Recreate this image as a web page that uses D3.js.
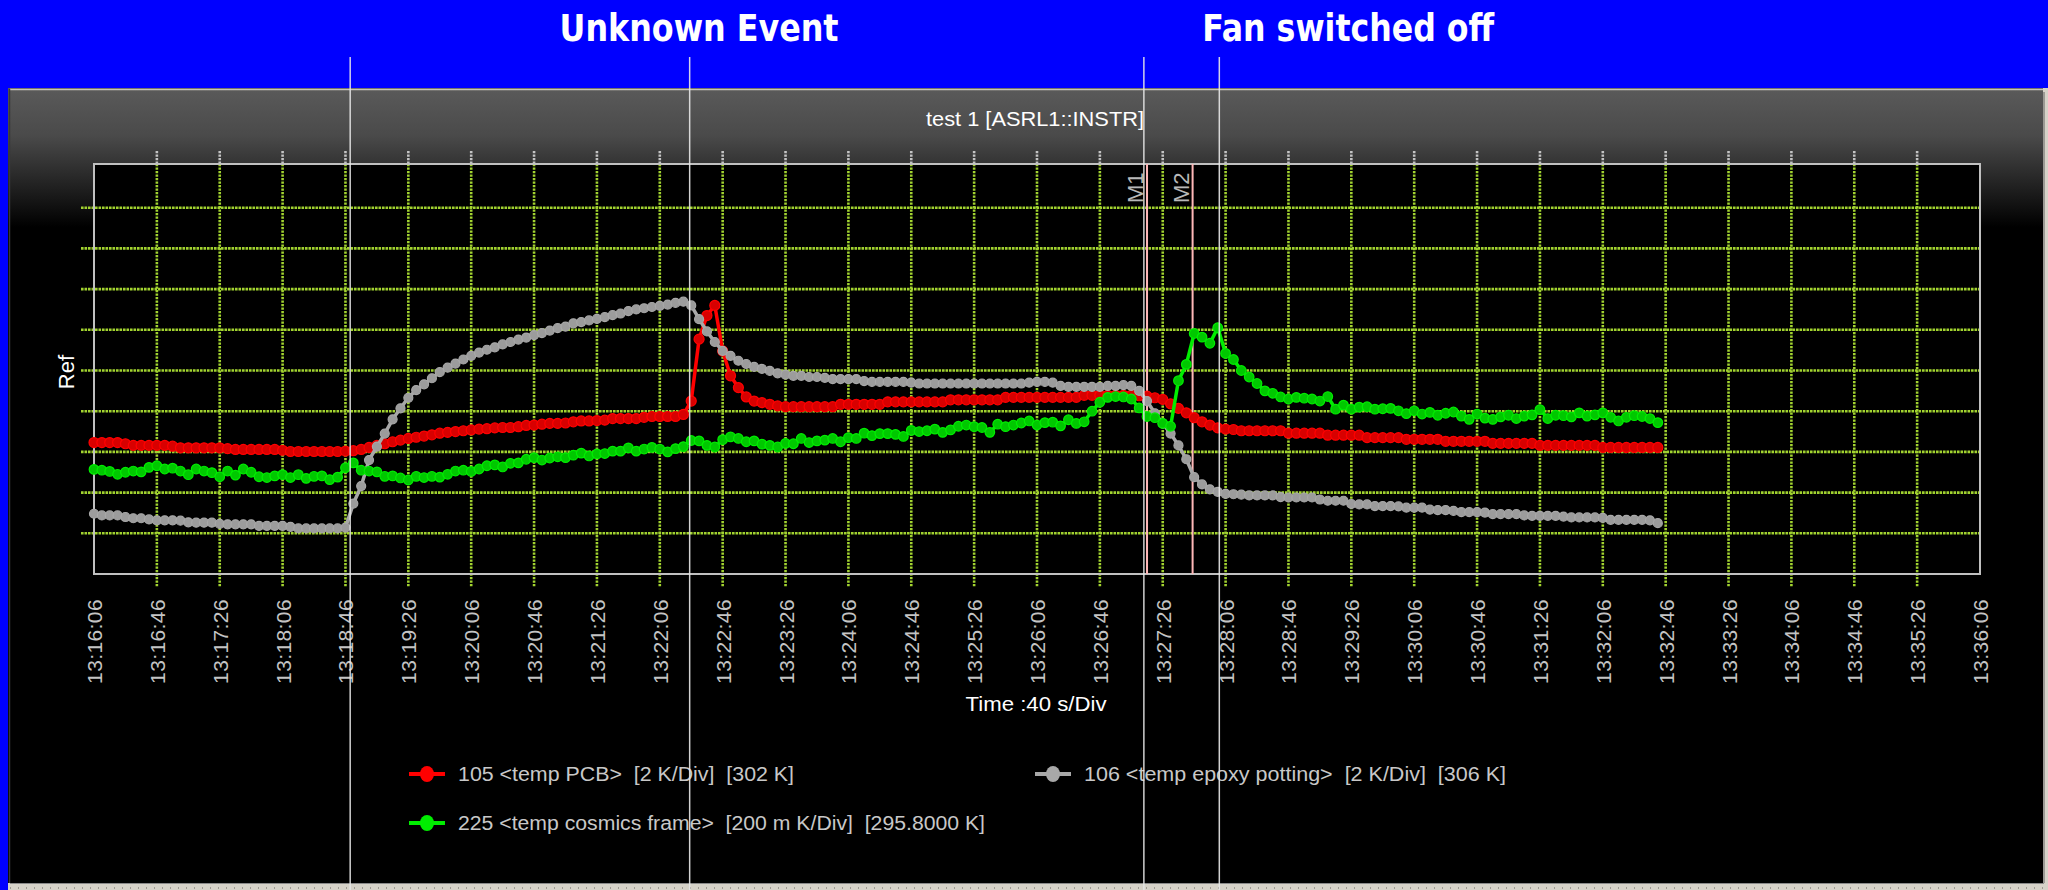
<!DOCTYPE html>
<html>
<head>
<meta charset="utf-8">
<script src="https://cdn.jsdelivr.net/npm/d3@7"></script>
<style>
  html, body { margin: 0; padding: 0; background: #0000ff; overflow: hidden; }
  svg { display: block; }
  .keep { white-space: pre; }
</style>
</head>
<body>
<div id="container"></div>
<script>
// x axis tick labels (40 s per division)
const tickLabels = [
  "13:16:06", "13:16:46", "13:17:26", "13:18:06", "13:18:46", "13:19:26", "13:20:06", "13:20:46",
  "13:21:26", "13:22:06", "13:22:46", "13:23:26", "13:24:06", "13:24:46", "13:25:26", "13:26:06",
  "13:26:46", "13:27:26", "13:28:06", "13:28:46", "13:29:26", "13:30:06", "13:30:46", "13:31:26",
  "13:32:06", "13:32:46", "13:33:26", "13:34:06", "13:34:46", "13:35:26", "13:36:06"
];

// samples: one every 5 s from sampleStart, values in divisions of the grid
const sampleStart = "13:16:06";
const sampleStep = 5;

const pcbValues = [
  3.23,3.23,3.23,3.23,3.20,3.16,3.16,3.16,3.16,3.16,
  3.14,3.10,3.10,3.10,3.10,3.10,3.10,3.08,3.06,3.06,
  3.06,3.06,3.06,3.06,3.04,3.01,3.01,3.01,3.01,3.01,
  3.01,3.01,3.02,3.03,3.06,3.11,3.16,3.20,3.25,3.29,
  3.33,3.36,3.39,3.42,3.46,3.48,3.50,3.52,3.54,3.56,
  3.57,3.59,3.60,3.60,3.62,3.65,3.66,3.68,3.70,3.70,
  3.71,3.74,3.76,3.76,3.77,3.78,3.82,3.82,3.82,3.82,
  3.85,3.87,3.87,3.87,3.87,3.92,4.25,5.77,6.35,6.60,
  5.48,4.87,4.58,4.35,4.25,4.21,4.17,4.13,4.11,4.11,
  4.11,4.11,4.11,4.11,4.11,4.17,4.17,4.17,4.17,4.17,
  4.17,4.23,4.23,4.23,4.23,4.23,4.23,4.23,4.23,4.28,
  4.28,4.28,4.28,4.28,4.28,4.28,4.34,4.34,4.34,4.34,
  4.34,4.34,4.34,4.34,4.34,4.34,4.39,4.39,4.39,4.39,
  4.39,4.39,4.39,4.38,4.37,4.33,4.29,4.18,4.07,3.96,
  3.84,3.74,3.66,3.59,3.56,3.55,3.52,3.52,3.52,3.52,
  3.52,3.52,3.46,3.46,3.46,3.46,3.46,3.41,3.41,3.41,
  3.41,3.41,3.35,3.35,3.35,3.35,3.35,3.31,3.31,3.31,
  3.31,3.31,3.26,3.26,3.26,3.26,3.26,3.26,3.21,3.21,
  3.21,3.21,3.21,3.21,3.16,3.16,3.16,3.16,3.16,3.16,
  3.16,3.16,3.11,3.11,3.11,3.11,3.11,3.11,3.11,3.11
];

const epoxyValues = [
  1.48,1.44,1.44,1.44,1.40,1.37,1.37,1.34,1.32,1.32,
  1.32,1.31,1.27,1.26,1.26,1.26,1.23,1.22,1.22,1.22,
  1.22,1.18,1.18,1.18,1.18,1.16,1.12,1.12,1.12,1.12,
  1.12,1.12,1.14,1.73,2.16,2.80,3.13,3.45,3.80,4.07,
  4.33,4.52,4.66,4.81,4.96,5.07,5.17,5.27,5.36,5.44,
  5.51,5.57,5.64,5.70,5.76,5.81,5.87,5.92,5.98,6.04,
  6.08,6.16,6.19,6.23,6.27,6.31,6.36,6.40,6.46,6.50,
  6.53,6.56,6.59,6.62,6.66,6.69,6.60,6.26,5.96,5.70,
  5.48,5.36,5.24,5.16,5.09,5.04,4.99,4.93,4.90,4.87,
  4.87,4.84,4.84,4.82,4.79,4.79,4.79,4.79,4.74,4.72,
  4.72,4.72,4.72,4.72,4.70,4.68,4.68,4.68,4.68,4.68,
  4.68,4.68,4.68,4.68,4.68,4.68,4.68,4.68,4.68,4.70,
  4.72,4.72,4.70,4.62,4.60,4.60,4.60,4.60,4.60,4.62,
  4.62,4.64,4.62,4.50,4.25,3.95,3.70,3.45,3.16,2.82,
  2.38,2.20,2.08,2.02,1.97,1.96,1.95,1.93,1.93,1.93,
  1.93,1.89,1.88,1.88,1.88,1.88,1.83,1.80,1.80,1.80,
  1.72,1.71,1.71,1.67,1.67,1.67,1.66,1.63,1.63,1.63,
  1.58,1.57,1.57,1.55,1.52,1.52,1.52,1.51,1.47,1.47,
  1.47,1.47,1.44,1.43,1.43,1.43,1.43,1.41,1.39,1.39,
  1.39,1.39,1.38,1.33,1.33,1.33,1.33,1.33,1.32,1.25
];

const cosmicsValues = [
  2.57,2.55,2.52,2.45,2.50,2.53,2.51,2.62,2.66,2.58,
  2.60,2.53,2.44,2.58,2.53,2.49,2.39,2.53,2.43,2.58,
  2.50,2.39,2.37,2.41,2.44,2.37,2.44,2.35,2.40,2.41,
  2.32,2.38,2.61,2.73,2.55,2.53,2.51,2.40,2.41,2.36,
  2.31,2.40,2.37,2.40,2.38,2.45,2.53,2.55,2.52,2.58,
  2.66,2.68,2.63,2.72,2.73,2.82,2.86,2.80,2.85,2.88,
  2.86,2.92,2.97,2.90,2.95,2.96,3.02,3.02,3.10,3.02,
  3.07,3.11,3.07,3.00,3.08,3.13,3.28,3.27,3.16,3.12,
  3.30,3.37,3.33,3.25,3.27,3.19,3.16,3.12,3.21,3.20,
  3.33,3.23,3.27,3.29,3.33,3.25,3.35,3.33,3.46,3.40,
  3.45,3.45,3.43,3.38,3.53,3.50,3.52,3.56,3.48,3.54,
  3.63,3.66,3.62,3.60,3.48,3.68,3.62,3.66,3.71,3.76,
  3.66,3.72,3.73,3.64,3.79,3.70,3.74,4.00,4.22,4.34,
  4.36,4.35,4.30,4.08,3.87,3.84,3.70,3.63,4.75,5.15,
  5.91,5.82,5.67,6.05,5.42,5.27,5.00,4.84,4.68,4.50,
  4.44,4.35,4.30,4.34,4.32,4.30,4.25,4.36,4.05,4.15,
  4.05,4.10,4.11,4.05,4.06,4.07,4.01,3.94,4.01,3.93,
  3.97,3.90,3.95,3.98,3.88,3.80,3.93,3.83,3.80,3.86,
  3.90,3.82,3.88,3.91,4.04,3.82,3.90,3.89,3.86,3.96,
  3.88,3.91,3.96,3.85,3.76,3.85,3.89,3.87,3.82,3.72
];

const seriesNames = [
  "105 <temp PCB>  [2 K/Div]  [302 K]",
  "106 <temp epoxy potting>  [2 K/Div]  [306 K]",
  "225 <temp cosmics frame>  [200 m K/Div]  [295.8000 K]"
];
const seriesColors = ["#ff0000", "#a8a8a8", "#00ee00"];

const markerNames = ["M1", "M2"];
const markerTimes = ["13:27:16", "13:27:45"];

const eventLineTimes = ["13:18:49", "13:22:25", "13:27:14", "13:28:02"];
const eventLabels = ["Unknown Event", "Fan switched off"];
const eventLabelTimes = ["13:22:31", "13:29:24"];

const W = 2048, H = 890;
const plotLeft = 94, plotRight = 1980, plotTop = 164, plotBottom = 574;

const toSec = s => { const [h, m, ss] = s.split(":").map(Number); return h * 3600 + m * 60 + ss; };
const t0 = toSec(tickLabels[0]);
const rel = s => toSec(s) - t0;

const x = d3.scaleLinear()
  .domain([0, rel(tickLabels[tickLabels.length - 1])])
  .range([plotLeft, plotRight]);
const y = d3.scaleLinear()
  .domain([0, 10])
  .range([plotBottom, 167]);

const svg = d3.select("#container")
  .append("svg")
  .attr("width", W)
  .attr("height", H);

// blue backdrop
svg.append("rect").attr("width", W).attr("height", H).attr("fill", "#0000ff");

// dark panel with grey fade at the top
const defs = svg.append("defs");
const grad = defs.append("linearGradient")
  .attr("id", "panelGrad")
  .attr("x1", 0).attr("y1", 0).attr("x2", 0).attr("y2", 1);
grad.append("stop").attr("offset", 0).attr("stop-color", "#5a5a5a");
grad.append("stop").attr("offset", 0.06).attr("stop-color", "#4a4a4a");
grad.append("stop").attr("offset", 0.175).attr("stop-color", "#000000");
grad.append("stop").attr("offset", 1).attr("stop-color", "#000000");

svg.append("rect")
  .attr("x", 8).attr("y", 88)
  .attr("width", 2036).attr("height", 795)
  .attr("fill", "url(#panelGrad)");

// panel frame bits
svg.append("line").attr("x1", 10).attr("x2", 2043).attr("y1", 89.5).attr("y2", 89.5)
  .attr("stroke", "#c8c4b8").attr("stroke-width", 1.5);
svg.append("line").attr("x1", 9.5).attr("x2", 9.5).attr("y1", 89).attr("y2", 883)
  .attr("stroke", "#3a3a3a").attr("stroke-width", 1.5);
svg.append("rect").attr("x", 2043).attr("y", 88).attr("width", 5).attr("height", 802).attr("fill", "#d6d2c8");
svg.append("line").attr("x1", 2044).attr("x2", 2044).attr("y1", 92).attr("y2", 883)
  .attr("stroke", "#606060").attr("stroke-width", 1);
svg.append("rect").attr("x", 8).attr("y", 883).attr("width", 2040).attr("height", 7).attr("fill", "#d6d2c8");
svg.append("line").attr("x1", 10).attr("x2", 2044).attr("y1", 883.5).attr("y2", 883.5)
  .attr("stroke", "#8a8a8a").attr("stroke-width", 1);
svg.append("line").attr("x1", 10).attr("x2", 2044).attr("y1", 888).attr("y2", 888)
  .attr("stroke", "#a09c94").attr("stroke-width", 2).attr("stroke-dasharray", "1,7");

// plot area
svg.append("rect")
  .attr("x", plotLeft).attr("y", plotTop)
  .attr("width", plotRight - plotLeft).attr("height", plotBottom - plotTop)
  .attr("fill", "#000");

const gridColor = "#a2d330";
const tickSecs = tickLabels.map(rel);
const innerTicks = tickSecs.slice(1, -1);

// vertical grid
const grid = svg.append("g");
grid.selectAll(".vg").data(innerTicks).join("line")
  .attr("x1", d => x(d)).attr("x2", d => x(d))
  .attr("y1", plotTop).attr("y2", plotBottom + 13)
  .attr("stroke", gridColor).attr("stroke-width", 2.6)
  .attr("stroke-dasharray", "2.2,1.3");
grid.selectAll(".vt").data(innerTicks).join("line")
  .attr("x1", d => x(d)).attr("x2", d => x(d))
  .attr("y1", plotTop - 13).attr("y2", plotTop)
  .attr("stroke", "#c4c4c4").attr("stroke-width", 2.6)
  .attr("stroke-dasharray", "2.2,1.3");

// horizontal grid
const hTicks = y.ticks(10).filter(d => d > 0 && d < 10);
grid.selectAll(".hg").data(hTicks).join("line")
  .attr("x1", plotLeft - 13).attr("x2", plotRight)
  .attr("y1", d => y(d)).attr("y2", d => y(d))
  .attr("stroke", gridColor).attr("stroke-width", 2.6)
  .attr("stroke-dasharray", "2.6,0.9");

// frame
svg.append("rect")
  .attr("x", plotLeft).attr("y", plotTop)
  .attr("width", plotRight - plotLeft).attr("height", plotBottom - plotTop)
  .attr("fill", "none").attr("stroke", "#c0c0c0").attr("stroke-width", 2);

// x axis labels
const xAxis = svg.append("g")
  .attr("transform", `translate(0,${plotBottom})`)
  .call(d3.axisBottom(x).tickValues(tickSecs).tickFormat((d, i) => tickLabels[i]).tickSize(0));
xAxis.select(".domain").remove();
xAxis.selectAll("text")
  .attr("transform", "translate(7.5,25) rotate(-90)")
  .attr("x", 0).attr("y", 0).attr("dy", 0)
  .attr("text-anchor", "end")
  .attr("fill", "#c4c4c4")
  .style("font-family", "Liberation Sans, Arial, sans-serif")
  .style("font-size", "21px")
  .style("letter-spacing", "0.4px");

// M markers
const mg = svg.append("g");
markerTimes.forEach((t, i) => {
  const mx = x(rel(t));
  mg.append("line")
    .attr("x1", mx).attr("x2", mx).attr("y1", plotTop).attr("y2", plotBottom)
    .attr("stroke", "#ffb8b8").attr("stroke-width", 2);
  mg.append("text")
    .attr("transform", `translate(${mx - 4},${plotTop + 39}) rotate(-90)`)
    .attr("fill", "#b8b8b8")
    .style("font-family", "Liberation Sans, Arial, sans-serif")
    .style("font-size", "22px")
    .text(markerNames[i]);
});

// series
const samples = values => values.map((v, i) => ({ t: rel(sampleStart) + i * sampleStep, v }));
const line = d3.line().x(d => x(d.t)).y(d => y(d.v));
const seriesValues = [pcbValues, epoxyValues, cosmicsValues];
const markerFill = ["#d80000", "#9c9c9c", "#00c800"];
const markerR = [5, 4.5, 4.8];

seriesValues.forEach((vals, si) => {
  const data = samples(vals);
  const g = svg.append("g");
  g.append("path")
    .datum(data)
    .attr("fill", "none")
    .attr("stroke", seriesColors[si])
    .attr("stroke-width", 3.5)
    .attr("d", line);
  g.selectAll("circle").data(data).join("circle")
    .attr("cx", d => x(d.t))
    .attr("cy", d => y(d.v))
    .attr("r", markerR[si])
    .attr("fill", markerFill[si])
    .attr("stroke", seriesColors[si])
    .attr("stroke-width", 1.2);
});

// titles
svg.append("text")
  .attr("x", 1035).attr("y", 126)
  .attr("text-anchor", "middle")
  .attr("fill", "#ffffff")
  .style("font-family", "Liberation Sans, Arial, sans-serif")
  .style("font-size", "21px")
  .attr("textLength", 218)
  .attr("lengthAdjust", "spacingAndGlyphs")
  .text("test 1 [ASRL1::INSTR]");

svg.append("text")
  .attr("x", 1036).attr("y", 711)
  .attr("text-anchor", "middle")
  .attr("fill", "#ffffff")
  .style("font-family", "Liberation Sans, Arial, sans-serif")
  .style("font-size", "21px")
  .attr("textLength", 141)
  .attr("lengthAdjust", "spacingAndGlyphs")
  .text("Time :40 s/Div");

svg.append("text")
  .attr("transform", "translate(74,372) rotate(-90)")
  .attr("text-anchor", "middle")
  .attr("fill", "#ffffff")
  .style("font-family", "Liberation Sans, Arial, sans-serif")
  .style("font-size", "22px")
  .text("Ref");

// legend
const legendCols = [409, 1035];
const legendRows = [774, 823];
const legendTextLen = [336, 422, 527];
seriesNames.forEach((name, i) => {
  const lx = legendCols[i % 2], ly = legendRows[Math.floor(i / 2)];
  const g = svg.append("g").attr("transform", `translate(${lx},${ly})`);
  g.append("line").attr("x1", 0).attr("x2", 36).attr("y1", 0).attr("y2", 0)
    .attr("stroke", seriesColors[i]).attr("stroke-width", 4);
  g.append("ellipse").attr("cx", 18).attr("cy", 0).attr("rx", 7).attr("ry", 8)
    .attr("fill", seriesColors[i]);
  g.append("text")
    .attr("class", "keep")
    .attr("x", 49).attr("y", 7)
    .attr("fill", "#c8c8c8")
    .style("font-family", "Liberation Sans Narrow, Liberation Sans, Arial, sans-serif")
    .style("font-size", "20px")
    .attr("textLength", legendTextLen[i])
    .attr("lengthAdjust", "spacingAndGlyphs")
    .text(name);
});

// event annotations
const ev = svg.append("g");
ev.selectAll("line").data(eventLineTimes).join("line")
  .attr("x1", d => x(rel(d))).attr("x2", d => x(rel(d)))
  .attr("y1", 57).attr("y2", H)
  .attr("stroke", "#e8e8e8").attr("stroke-width", 1.5)
  .attr("opacity", 0.9);
const evLen = [279, 292];
eventLabels.forEach((label, i) => {
  ev.append("text")
    .attr("x", x(rel(eventLabelTimes[i]))).attr("y", 41)
    .attr("text-anchor", "middle")
    .attr("fill", "#ffffff")
    .style("font-family", "DejaVu Sans Condensed, DejaVu Sans, sans-serif")
    .style("font-stretch", "condensed")
    .style("font-weight", "bold")
    .style("font-size", "37px")
    .attr("textLength", evLen[i])
    .attr("lengthAdjust", "spacingAndGlyphs")
    .text(label);
});
</script>
</body>
</html>
